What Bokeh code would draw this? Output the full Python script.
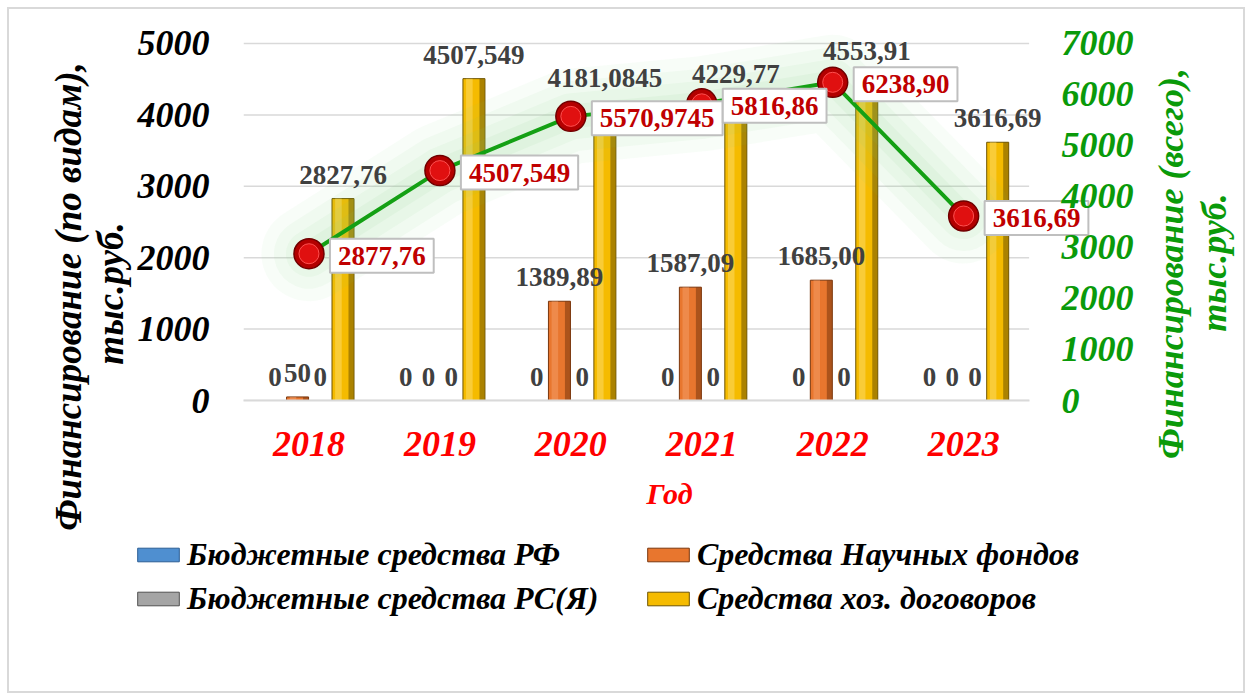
import math
from bokeh.plotting import figure
from bokeh.layouts import row, column
from bokeh.models import (ColumnDataSource, Range1d, LinearAxis, LabelSet,
                          Legend, LegendItem, FixedTicker)
from bokeh.transform import dodge
from bokeh.embed import file_html
from bokeh.resources import INLINE
from bokeh.core.properties import value

# ---------------- data ----------------
years = ["2018", "2019", "2020", "2021", "2022", "2023"]
budget_rf = [0, 0, 0, 0, 0, 0]
sci_funds = [50, 0, 1389.89, 1587.09, 1685.00, 0]
budget_rs = [0, 0, 0, 0, 0, 0]
contracts = [2827.76, 4507.549, 4181.0845, 4229.77, 4553.91, 3616.69]
total = [2877.76, 4507.549, 5570.9745, 5816.86, 6238.90, 3616.69]

budget_rf_labels = ["0", "0", "0", "0", "0", "0"]
sci_funds_labels = ["50", "0", "1389,89", "1587,09", "1685,00", "0"]
budget_rs_labels = ["0", "0", "0", "0", "0", "0"]
contracts_labels = ["2827,76", "4507,549", "4181,0845", "4229,77", "4553,91", "3616,69"]
total_labels = ["2877,76", "4507,549", "5570,9745", "5816,86", "6238,90", "3616,69"]

left_ticks = [0, 1000, 2000, 3000, 4000, 5000]
right_ticks = [0, 1000, 2000, 3000, 4000, 5000, 6000, 7000]

series_names = ["Бюджетные средства РФ", "Средства Научных фондов",
                "Бюджетные средства РС(Я)", "Средства хоз. договоров"]
left_title = ["Финансирование (по видам),", "тыс.руб."]
right_title = ["Финансирование (всего),", "тыс.руб."]

FONT = "Liberation Serif"
GREEN = "#0a9a0a"

xs = [i + 0.5 for i in range(len(years))]
n_cat = len(years)

LT_W = 134
RT_W = 112
MID_W = 1252 - LT_W - RT_W

# ---------------- main chart ----------------
Y_MAX = 5350
p = figure(width=MID_W, height=520, x_range=Range1d(0, 6.507), y_range=Range1d(0, Y_MAX),
           output_backend="svg", toolbar_location=None,
           min_border_left=241 - LT_W, min_border_right=45, min_border_top=18,
           min_border_bottom=120)
p.outline_line_color = None
p.background_fill_color = None
p.border_fill_color = None
p.extra_y_ranges = {"total": Range1d(0, Y_MAX * 1.4)}

p.xgrid.grid_line_color = None
p.ygrid.grid_line_color = None
p.segment(x0=0, x1=n_cat, y0=left_ticks, y1=left_ticks, line_color="#d9d9d9", line_width=1.5)

offsets = [-0.26, -0.087, 0.087, 0.26]
bw = 0.168
series = [
    (budget_rf, budget_rf_labels, "#4f8fd0", "#2b5d94", "#9cc6f0"),
    (sci_funds, sci_funds_labels, "#e8762e", "#7a360c", "#f7a56e"),
    (budget_rs, budget_rs_labels, "#a5a5a5", "#505050", "#d0d0d0"),
    (contracts, contracts_labels, "#f5bb00", "#6e5400", "#ffe27a"),
]
for (vals, labs, fc, lc, hc), off in zip(series, offsets):
    src = ColumnDataSource(dict(x=xs, y=vals, t=labs))
    p.vbar(x=dodge("x", off), top="y", width=bw, source=src,
           fill_color=fc, line_color=lc, line_width=1)
    p.vbar(x=dodge("x", off - 0.035), top="y", width=0.05, source=src,
           fill_color=hc, fill_alpha=0.45, line_color=None)
    p.vbar(x=dodge("x", off + 0.062), top="y", width=0.04, source=src,
           fill_color=lc, fill_alpha=0.55, line_color=None)
    p.add_layout(LabelSet(x=dodge("x", off), y="y", text="t", source=src,
                          y_offset=24, text_align="center", text_baseline="middle",
                          text_font=value(FONT), text_font_style="bold",
                          text_font_size="27px", text_color="#404040"))

tsrc = ColumnDataSource(dict(x=xs, y=total, t=total_labels))
for w, a in [(95, 0.05), (70, 0.06), (46, 0.07), (24, 0.08)]:
    p.line("x", "y", source=tsrc, y_range_name="total", line_width=w, line_alpha=a,
           line_color="#7ad07a", line_join="round", line_cap="round")
p.line("x", "y", source=tsrc, y_range_name="total", line_width=4, line_color="#14a014")
p.scatter("x", "y", source=tsrc, y_range_name="total", size=30, fill_color="#b30000",
          line_color="#700000", line_width=1.5)
p.scatter("x", "y", source=tsrc, y_range_name="total", size=20, fill_color="#e01010",
          line_color="#ff5050", line_width=1)
p.text("x", "y", text="t", source=tsrc, y_range_name="total", x_offset=21, y_offset=2,
       text_align="left", text_baseline="middle", text_font=value(FONT),
       text_font_style="bold", text_font_size="27px", text_color="#c00000",
       background_fill_color="white", border_line_color="#bfbfbf", border_line_width=2,
       padding=8)

p.yaxis.ticker = FixedTicker(ticks=left_ticks)
p.yaxis.axis_line_color = None
p.yaxis.major_tick_line_color = None
p.yaxis.minor_tick_line_color = None
p.yaxis.major_label_standoff = 28
p.yaxis.major_label_text_font = FONT
p.yaxis.major_label_text_font_style = "bold italic"
p.yaxis.major_label_text_font_size = "36px"
p.yaxis.major_label_text_color = "black"

ra = LinearAxis(y_range_name="total", ticker=FixedTicker(ticks=right_ticks))
ra.axis_line_color = None
ra.major_tick_line_color = None
ra.minor_tick_line_color = None
ra.major_label_standoff = -40
ra.major_label_text_font = FONT
ra.major_label_text_font_style = "bold italic"
ra.major_label_text_font_size = "36px"
ra.major_label_text_color = GREEN
p.add_layout(ra, "right")

p.xaxis.ticker = FixedTicker(ticks=xs)
p.xaxis.major_label_overrides = {x: y for x, y in zip(xs, years)}
p.xaxis.bounds = (0, n_cat)
p.xaxis.axis_line_color = "#d9d9d9"
p.xaxis.axis_line_width = 2
p.xaxis.major_tick_line_color = None
p.xaxis.minor_tick_line_color = None
p.xaxis.major_label_standoff = 25
p.xaxis.major_label_text_font = FONT
p.xaxis.major_label_text_font_style = "bold italic"
p.xaxis.major_label_text_font_size = "36px"
p.xaxis.major_label_text_color = "#ff0000"
p.xaxis.axis_label = "Год"
p.xaxis.axis_label_standoff = 18
p.xaxis.axis_label_text_font = FONT
p.xaxis.axis_label_text_font_style = "bold italic"
p.xaxis.axis_label_text_font_size = "30px"
p.xaxis.axis_label_text_color = "#ff0000"

# ---------------- axis titles (side strips) ----------------
def strip(width, height):
    f = figure(width=width, height=height, x_range=Range1d(0, width), y_range=Range1d(0, height),
               output_backend="svg", toolbar_location=None,
               x_axis_location=None, y_axis_location=None, min_border=0,
               min_border_left=0, min_border_right=0, min_border_top=0, min_border_bottom=0)
    f.outline_line_color = None
    f.background_fill_color = None
    f.border_fill_color = None
    f.xgrid.visible = False
    f.ygrid.visible = False
    return f

lt = strip(LT_W, 700)
lt.text(x=[68, 110], y=[700 - 296, 700 - 293], text=left_title, angle=math.pi / 2,
        text_align="center", text_baseline="middle", text_font=value(FONT),
        text_font_style="bold italic", text_font_size="37px", text_color="black")

rt = strip(RT_W, 700)
rt.text(x=[30, 73], y=[700 - 263, 700 - 262], text=right_title, angle=math.pi / 2,
        text_align="center", text_baseline="middle", text_font=value(FONT),
        text_font_style="bold italic", text_font_size="36px", text_color=GREEN)

# ---------------- legend strip ----------------
lg = strip(MID_W, 180)
leg_renderers = []
for (vals, _, fc, lc, _) in series:
    r = lg.vbar(x=xs, top=vals, width=0.5, fill_color=fc, line_color=lc, line_width=1)
    r.visible = False
    leg_renderers.append(r)
# legend fills column by column: order so that rows read RF | funds, RS(Ya) | contracts
order = [0, 2, 1, 3]
items = [LegendItem(label=series_names[i], renderers=[leg_renderers[i]], index=0) for i in order]
leg = Legend(items=items, ncols=2, location=(-2, 83), padding=0, margin=0,
             spacing=7, glyph_width=52, glyph_height=17, label_height=30,
             label_standoff=3, label_width=448,
             label_text_font=FONT, label_text_font_style="bold italic",
             label_text_font_size="32px", label_text_color="black",
             border_line_color=None, background_fill_alpha=0)
lg.add_layout(leg, "center")

layout = row(lt, column(row(p), lg), rt,
             styles={"outline": "2px solid #d9d9d9", "outline-offset": "-9px"})
open("out.html", "w").write(file_html(layout, INLINE))
